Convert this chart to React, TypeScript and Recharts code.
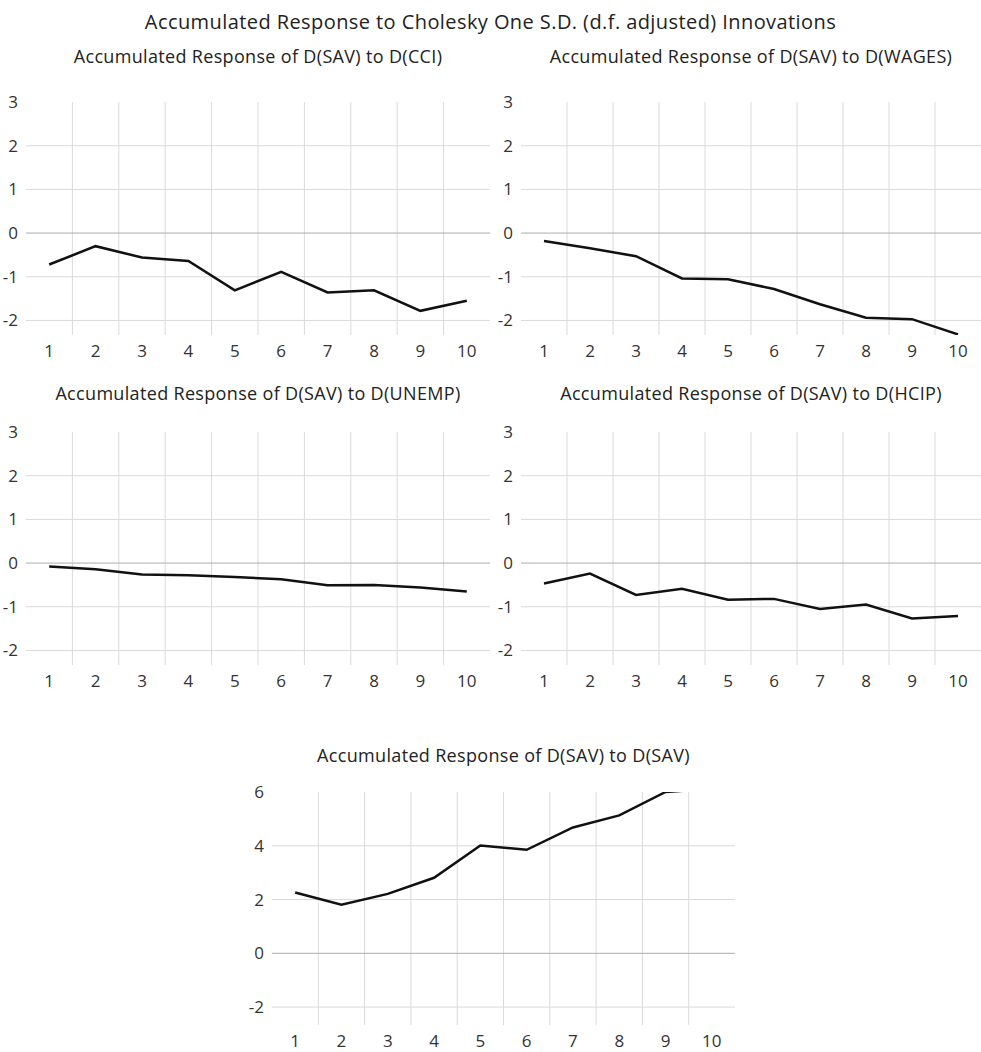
import React from "react";
import { LineChart, Line, XAxis, YAxis, ReferenceLine } from "recharts";

const steps = [1, 2, 3, 4, 5, 6, 7, 8, 9, 10];

const toCci = [-0.72, -0.3, -0.56, -0.64, -1.31, -0.89, -1.36, -1.31, -1.78, -1.55];
const toWages = [-0.18, -0.35, -0.53, -1.04, -1.06, -1.28, -1.63, -1.94, -1.97, -2.32];
const toUnemp = [-0.08, -0.14, -0.26, -0.28, -0.32, -0.37, -0.51, -0.5, -0.56, -0.65];
const toHcip = [-0.47, -0.24, -0.73, -0.59, -0.84, -0.82, -1.05, -0.95, -1.27, -1.21];
const toSav = [2.26, 1.81, 2.21, 2.81, 4.01, 3.85, 4.68, 5.13, 6.0, 6.12];

const smallTicks = [-2, -1, 0, 1, 2, 3];
const savTicks = [-2, 0, 2, 4, 6];

const FONT = "'Open Sans', 'Noto Sans', sans-serif";
const GRID = "#dadada";
const ZERO = "#acacac";
const TICK = { fontSize: 17, fill: "#333333", fontFamily: FONT };

interface PanelProps {
  title: string;
  values: number[];
  ticks: number[];
  left: number;
  plotTop: number;
  titleY: number;
  width: number;
}

function Panel({ title, values, ticks, left, plotTop, titleY, width }: PanelProps) {
  const data = steps.map((s, i) => ({ step: s, v: values[i] }));
  const yMax = ticks[ticks.length - 1];
  // bottom sits a third of a tick-step under the lowest tick, like the source
  const yMin = ticks[0] - (ticks[1] - ticks[0]) / 3;
  const dividers = steps.slice(1).map(s => s - 0.5);
  const plotLeft = 26;
  return (
    <>
      <div style={{ position: "absolute", left: left + plotLeft, width: width - plotLeft - 1, top: titleY - 12, textAlign: "center", fontSize: 18, letterSpacing: 0.33, lineHeight: "24px", color: "#222", whiteSpace: "nowrap" }}>
        {title}
      </div>
      <div style={{ position: "absolute", left, top: plotTop - 12 }}>
        <LineChart width={width} height={280} data={data} margin={{ top: 12, right: 1, bottom: 5, left: 4 }}>
          <XAxis dataKey="step" type="number" domain={[0.5, 10.5]} ticks={steps} interval={0}
            axisLine={false} tickLine={false} height={30} tickMargin={4} tick={TICK} />
          <YAxis type="number" domain={[yMin, yMax]} ticks={ticks} interval={0} allowDataOverflow
            axisLine={false} tickLine={false} width={22} tick={TICK} />
          {ticks.filter(t => t !== 0 && t !== yMax).map(t => (
            <ReferenceLine key={"h" + t} y={t} stroke={GRID} strokeWidth={1} />
          ))}
          {dividers.map(x => (
            <ReferenceLine key={"v" + x} x={x} stroke={GRID} strokeWidth={1} />
          ))}
          <ReferenceLine y={0} stroke={ZERO} strokeWidth={1} />
          <Line dataKey="v" stroke="#111" strokeWidth={2.5} dot={false} isAnimationActive={false} />
        </LineChart>
      </div>
    </>
  );
}

export default function App() {
  return (
    <div style={{ position: "absolute", left: 0, top: 0, width: 981, height: 1052, overflow: "hidden", background: "#fff", fontFamily: FONT }}>
      <div style={{ position: "absolute", left: 0, width: 981, top: 9, textAlign: "center", fontSize: 20, letterSpacing: 0.42, lineHeight: "26px", color: "#222", whiteSpace: "nowrap" }}>
        Accumulated Response to Cholesky One S.D. (d.f. adjusted) Innovations
      </div>
      <Panel title="Accumulated Response of D(SAV) to D(CCI)" values={toCci} ticks={smallTicks} left={0} plotTop={102} titleY={56} width={491} />
      <Panel title="Accumulated Response of D(SAV) to D(WAGES)" values={toWages} ticks={smallTicks} left={495} plotTop={102} titleY={56} width={487} />
      <Panel title="Accumulated Response of D(SAV) to D(UNEMP)" values={toUnemp} ticks={smallTicks} left={0} plotTop={432} titleY={393} width={491} />
      <Panel title="Accumulated Response of D(SAV) to D(HCIP)" values={toHcip} ticks={smallTicks} left={495} plotTop={432} titleY={393} width={487} />
      <Panel title="Accumulated Response of D(SAV) to D(SAV)" values={toSav} ticks={savTicks} left={246} plotTop={792} titleY={755} width={490} />
    </div>
  );
}
